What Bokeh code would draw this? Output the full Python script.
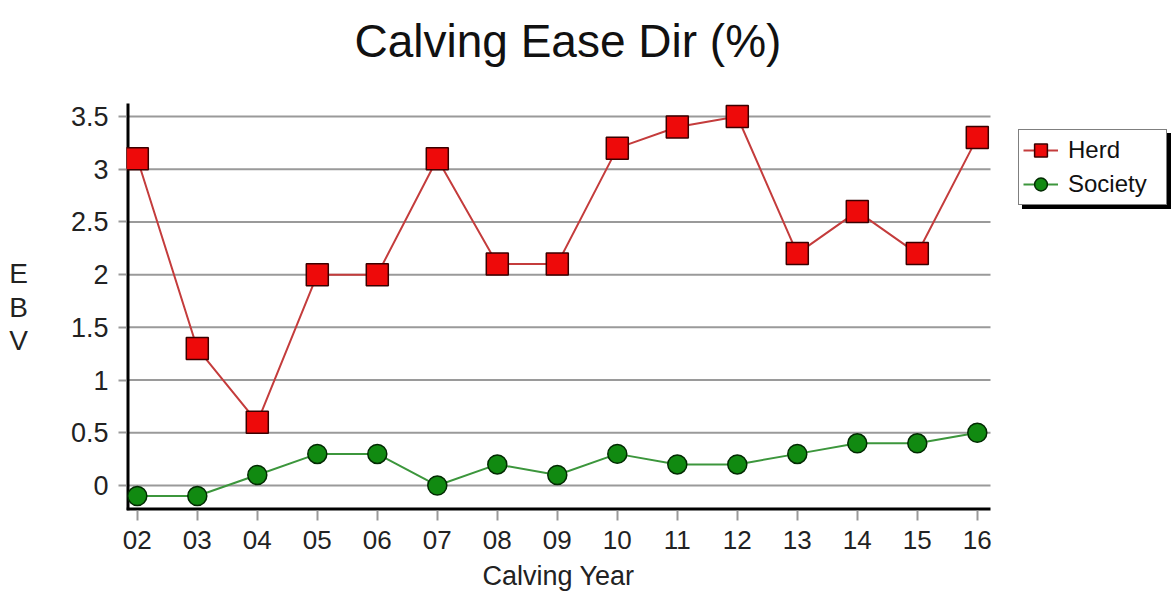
from bokeh.plotting import figure
from bokeh.models import FixedTicker, Legend, LegendItem, ColumnDataSource, Range1d, Title
from bokeh.embed import file_html
from bokeh.resources import INLINE

years = [2, 3, 4, 5, 6, 7, 8, 9, 10, 11, 12, 13, 14, 15, 16]
year_labels = ["02", "03", "04", "05", "06", "07", "08", "09", "10", "11", "12", "13", "14", "15", "16"]
herd = [3.1, 1.3, 0.6, 2.0, 2.0, 3.1, 2.1, 2.1, 3.2, 3.4, 3.5, 2.2, 2.6, 2.2, 3.3]
society = [-0.1, -0.1, 0.1, 0.3, 0.3, 0.0, 0.2, 0.1, 0.3, 0.2, 0.2, 0.3, 0.4, 0.4, 0.5]
y_ticks = [0, 0.5, 1, 1.5, 2, 2.5, 3, 3.5]
y_tick_labels = ["0", "0.5", "1", "1.5", "2", "2.5", "3", "3.5"]

FONT = "Liberation Sans"
X_LO, X_HI = 1.82, 16.22      # extent of the chart area (axis / grid)
Y_LO, Y_HI = -0.237, 3.623

W, H = 1172, 600
LEFT, TOP, BOTTOM = 126, 70, 90
PX_X = 60.0                   # px per year
PX_Y = 105.43                 # px per EBV unit
p = figure(width=W, height=H, output_backend="svg", toolbar_location=None,
           x_range=Range1d(X_LO, X_LO + (W - LEFT) / PX_X),
           y_range=Range1d(Y_LO, Y_LO + (H - TOP - BOTTOM) / PX_Y),
           min_border_left=LEFT, min_border_right=0, min_border_top=TOP, min_border_bottom=BOTTOM)

p.title.text = "Calving Ease Dir (%)"
p.title.align = "left"
p.title.offset = 228
p.title.text_font = FONT
p.title.text_font_size = "46px"
p.title.text_font_style = "normal"
p.title.text_color = "#111111"
p.title.standoff = 8

p.outline_line_color = None
p.background_fill_color = "white"
p.border_fill_color = "white"

# axes
p.xaxis.ticker = FixedTicker(ticks=years)
p.xaxis.major_label_overrides = {y: l for y, l in zip(years, year_labels)}
p.yaxis.ticker = FixedTicker(ticks=y_ticks)
p.yaxis.major_label_overrides = {y: l for y, l in zip(y_ticks, y_tick_labels)}
for ax in (p.xaxis, p.yaxis):
    ax.axis_line_color = None
    ax.major_tick_line_color = "#999999"
    ax.major_tick_line_width = 2
    ax.major_tick_in = 0
    ax.minor_tick_line_color = None
    ax.major_label_text_font = FONT
    ax.major_label_text_font_size = "26px"
    ax.major_label_text_color = "#222222"
    ax.axis_label_text_font = FONT
    ax.axis_label_text_color = "#222222"
    ax.axis_label_text_font_style = "normal"

p.xaxis.major_tick_out = 10
p.xaxis.major_label_standoff = 10

p.yaxis.major_label_text_font_size = "27px"
p.yaxis.major_tick_out = 8
p.yaxis.major_label_standoff = 10
p.yaxis.axis_label = " \nE\nB\nV"
p.yaxis.axis_label_orientation = "horizontal"
p.yaxis.axis_label_text_font_size = "28px"
p.yaxis.axis_label_text_line_height = 1.07
p.yaxis.axis_label_standoff = 40

xlabel = Title(text="Calving Year", align="left", offset=356,
               text_font=FONT, text_font_size="27px", text_font_style="normal",
               text_color="#222222", standoff=14)
p.add_layout(xlabel, "below")

p.xgrid.grid_line_color = None
p.ygrid.grid_line_color = None

# horizontal grid lines limited to the chart area
p.segment(x0=[X_LO] * len(y_ticks), x1=[X_HI] * len(y_ticks), y0=y_ticks, y1=y_ticks,
          line_color="#9a9a9a", line_width=2)
# axis lines limited to the chart area
p.segment(x0=[X_LO], x1=[X_HI], y0=[Y_LO], y1=[Y_LO], line_color="black", line_width=6)
p.segment(x0=[X_LO], x1=[X_LO], y0=[Y_LO], y1=[Y_HI], line_color="black", line_width=6)

src_h = ColumnDataSource(dict(x=years, y=herd))
src_s = ColumnDataSource(dict(x=years, y=society))

hl = p.line("x", "y", source=src_h, line_color="#c43c3c", line_width=2)
hm = p.scatter("x", "y", source=src_h, marker="square", size=22,
               fill_color="#ee0a0a", line_color="#3a0000", line_width=1.5)
sl = p.line("x", "y", source=src_s, line_color="#3c963c", line_width=2)
sm = p.scatter("x", "y", source=src_s, marker="circle", size=19,
               fill_color="#118a11", line_color="#022a02", line_width=1.5)

# shadow legend (drawn first, offset)
empty = ColumnDataSource(dict(x=[], y=[]))
d1 = p.line("x", "y", source=empty, line_alpha=0)
d2 = p.line("x", "y", source=empty, line_alpha=0)
shadow = Legend(items=[LegendItem(label="Herd", renderers=[d1]),
                       LegendItem(label="Society", renderers=[d2])],
                location=(892 + 4, 305 - 4))

legend = Legend(items=[LegendItem(label="Herd", renderers=[hl, hm]),
                       LegendItem(label="Society", renderers=[sl, sm])],
                location=(892, 305))
for lg in (shadow, legend):
    lg.label_text_font = FONT
    lg.label_text_font_size = "24px"
    lg.glyph_width = 35
    lg.glyph_height = 32
    lg.spacing = 2
    lg.padding = 4
    lg.margin = 0
    lg.label_standoff = 10
    lg.border_line_color = "black"
    lg.border_line_width = 1.5
    lg.label_width = 94
    lg.label_height = 24
shadow.background_fill_color = "black"
shadow.background_fill_alpha = 1
shadow.label_text_color = "black"
legend.background_fill_color = "white"
legend.background_fill_alpha = 1
legend.label_text_color = "#111111"

p.add_layout(shadow, "center")
p.add_layout(legend, "center")

open("out.html", "w").write(file_html(p, INLINE))
